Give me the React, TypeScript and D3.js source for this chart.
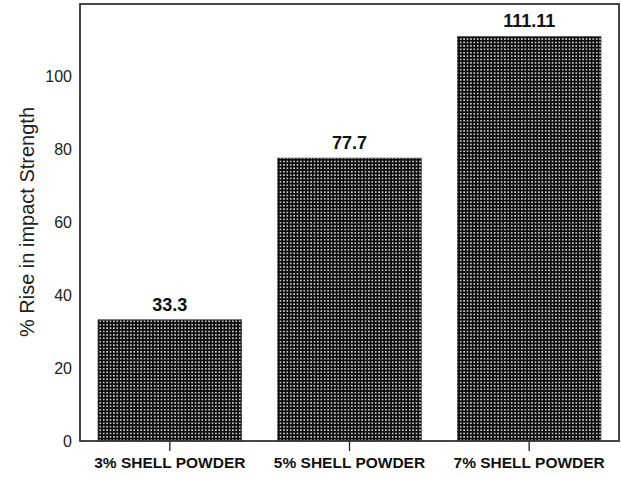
import React from "react";
import * as d3 from "d3";

const categories = ["3% SHELL POWDER", "5% SHELL POWDER", "7% SHELL POWDER"];
const values = [33.3, 77.7, 111.11];
const valueLabels = ["33.3", "77.7", "111.11"];
const yTicks = [0, 20, 40, 60, 80, 100];

export default function App() {
  const W = 621, H = 477;
  const left = 80, right = 619, top = 4, bottom = 441;
  const x = d3.scaleBand<string>().domain(categories).range([left, right]).paddingInner(0.2).paddingOuter(0.1);
  const y = d3.scaleLinear().domain([0, 120]).range([bottom, top]);
  const font = "Liberation Sans, Arial, sans-serif";
  return (
    <svg width={W} height={H} style={{ position: "absolute", left: 0, top: 0 }}>
      <defs>
        <pattern id="dots" width={3.4} height={3.4} patternUnits="userSpaceOnUse">
          <rect width={3.4} height={3.4} fill="#0a0a0a" />
          <circle cx={1.7} cy={1.7} r={0.85} fill="#fff" />
        </pattern>
      </defs>
      <rect x={0} y={0} width={W} height={H} fill="#fff" />
      {categories.map((c, i) => (
        <g key={c}>
          <rect x={x(c)} y={y(values[i])} width={x.bandwidth()} height={bottom - y(values[i])} fill="url(#dots)" stroke="#444" strokeWidth={0.6} />
          <text x={x(c)! + x.bandwidth() / 2} y={y(values[i]) - 9} textAnchor="middle" fontFamily={font} fontWeight="bold" fontSize={18} fill="#111">{valueLabels[i]}</text>
          <line x1={x(c)! + x.bandwidth() / 2} x2={x(c)! + x.bandwidth() / 2} y1={bottom} y2={bottom + 10} stroke="#222" strokeWidth={1.3} />
          <text x={x(c)! + x.bandwidth() / 2} y={468} textAnchor="middle" fontFamily={font} fontWeight="bold" fontSize={15.5} fill="#111">{c}</text>
        </g>
      ))}
      <rect x={left} y={top} width={right - left} height={bottom - top} fill="none" stroke="#333" strokeWidth={1.8} />
      {yTicks.map((t) => (
        <text key={t} x={72} y={y(t)} dy="0.35em" textAnchor="end" fontFamily={font} fontSize={16} fill="#222">{t}</text>
      ))}
      <text transform={`translate(34, 222) rotate(-90)`} textAnchor="middle" fontFamily={font} fontSize={20} fill="#222">% Rise in impact Strength</text>
    </svg>
  );
}
